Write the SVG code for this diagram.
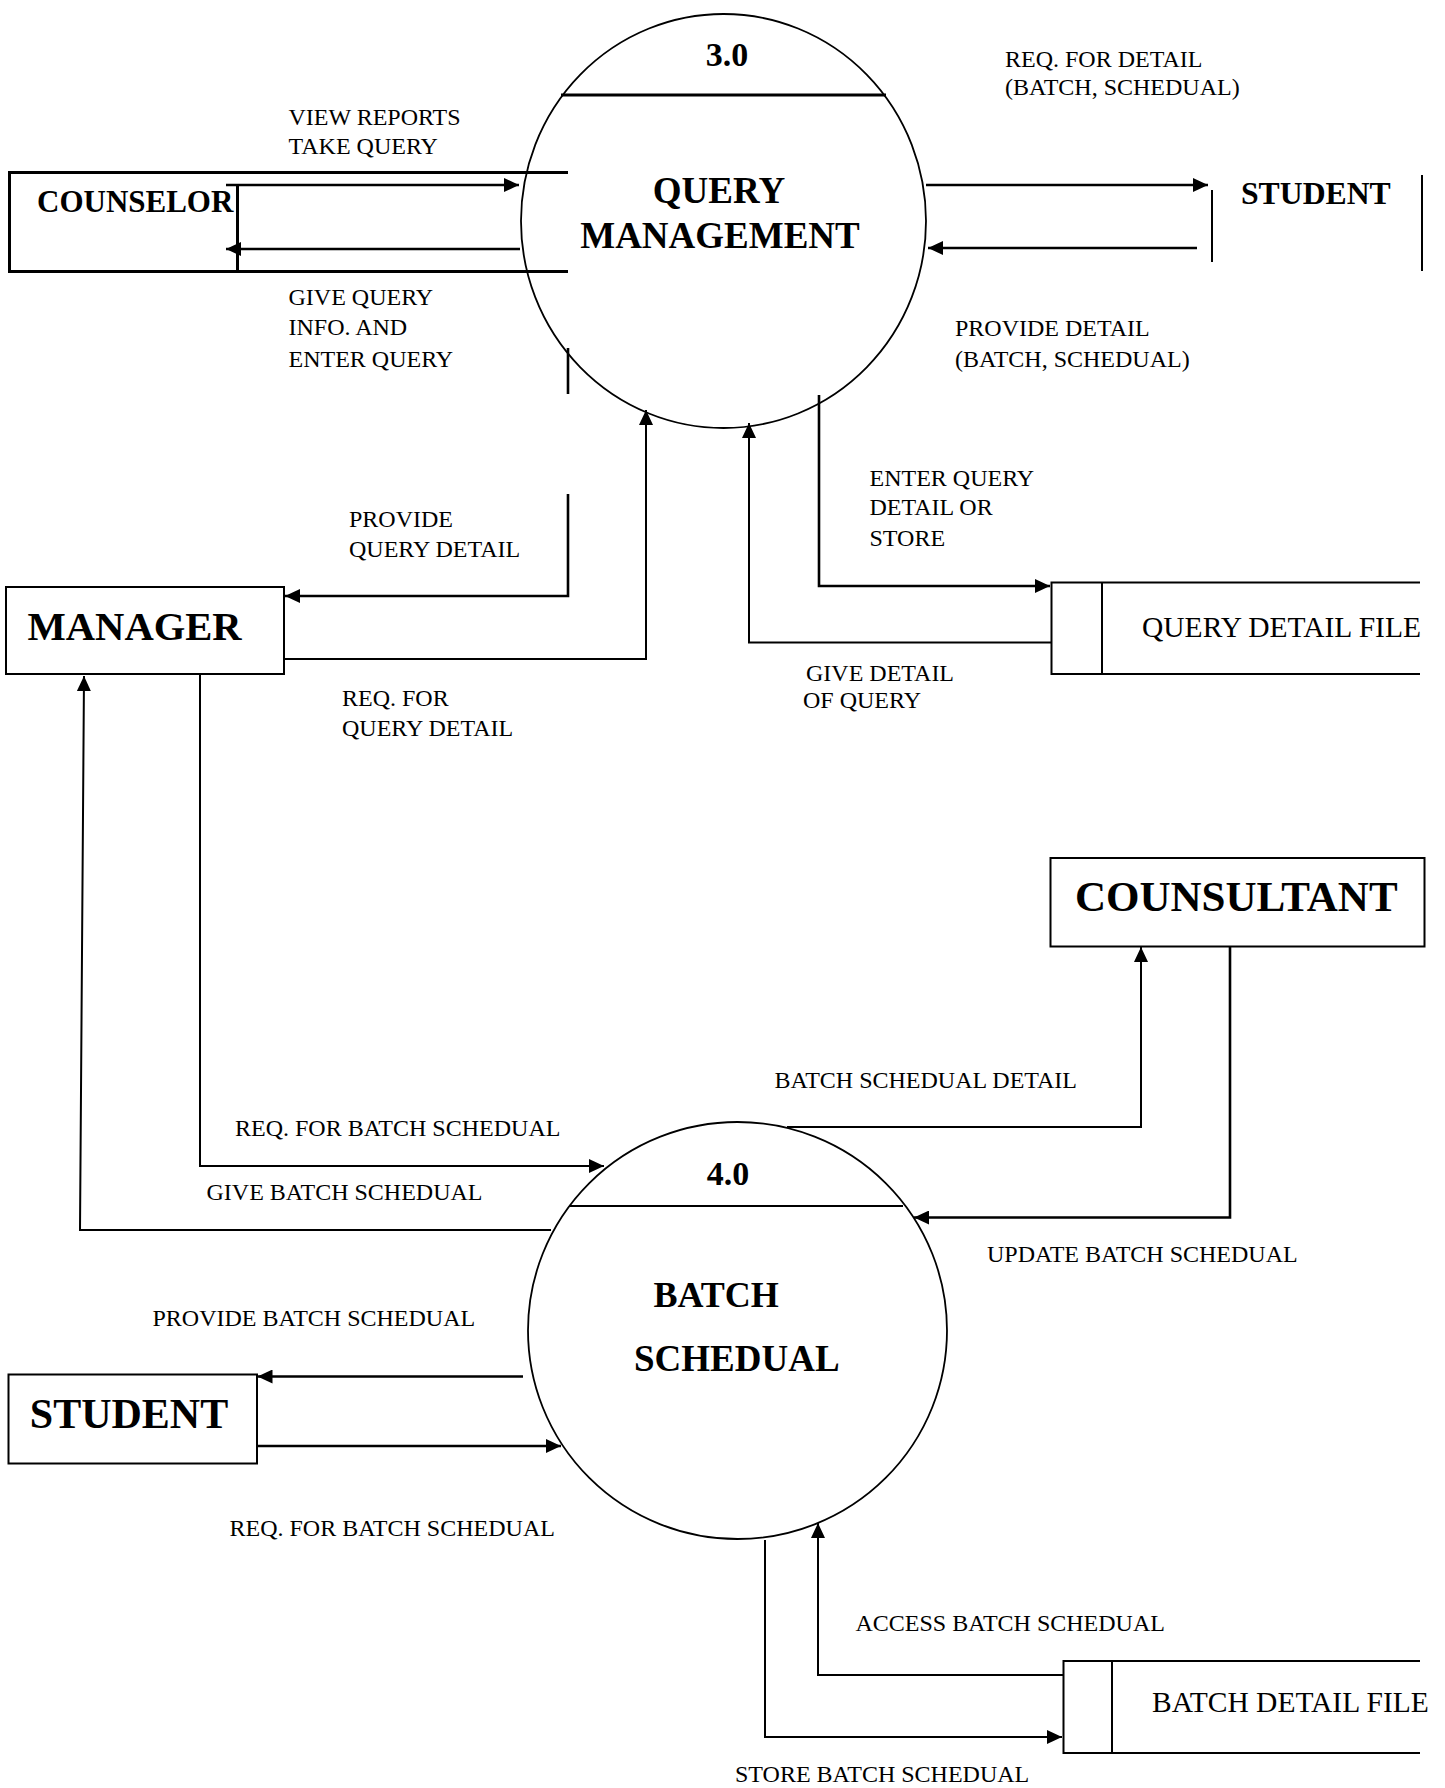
<svg xmlns="http://www.w3.org/2000/svg" width="1445" height="1788" viewBox="0 0 1445 1788">
  <style>
    .bg { fill: #ffffff; }
    .edge { fill: none; stroke: #000; stroke-width: 3; }
    .thin { fill: none; stroke: #000; stroke-width: 2; }
    .proc { fill: none; stroke: #000; stroke-width: 1.8; }
    .flow { fill: none; stroke: #000; stroke-width: 2.6; }
    .flow2 { fill: none; stroke: #000; stroke-width: 2; }
    .title { font-family: "Liberation Serif", "Times New Roman", serif; font-weight: bold; fill: #000; }
    .label { font-family: "Liberation Serif", "Times New Roman", serif; font-size: 24px; fill: #000; }
    .store { font-family: "Liberation Serif", "Times New Roman", serif; font-size: 29.5px; fill: #000; }
  </style>
  <defs>
    <marker id="arrow" markerUnits="userSpaceOnUse" markerWidth="16" markerHeight="14" refX="15" refY="7" orient="auto">
      <path d="M0,0 L15,7 L0,14 z" fill="#000"/>
    </marker>
  </defs>

  <rect class="bg" x="0" y="0" width="1445" height="1788"/>

  <!-- Level 1: query management -->
  <g id="counselor">
    <path class="edge" d="M568,172.5 H9.5 V271.5 H568"/>
    <line class="edge" x1="237.5" y1="186" x2="237.5" y2="271.5"/>
    <text class="title" x="37" y="212" font-size="31">COUNSELOR</text>
  </g>

  <g id="process-3">
    <ellipse class="proc" cx="723.5" cy="221" rx="202.5" ry="207"/>
    <line class="edge" x1="561" y1="95" x2="886" y2="95"/>
    <text class="title" x="727" y="66" font-size="34" text-anchor="middle">3.0</text>
    <text class="title" x="719" y="203" font-size="37" text-anchor="middle">QUERY</text>
    <text class="title" x="720" y="248" font-size="37" text-anchor="middle">MANAGEMENT</text>
  </g>

  <g id="student-top">
    <line class="thin" x1="1212" y1="190" x2="1212" y2="262"/>
    <line class="thin" x1="1422" y1="175" x2="1422" y2="271"/>
    <text class="title" x="1241" y="204" font-size="31.7">STUDENT</text>
  </g>

  <g id="manager">
    <rect class="thin" x="6" y="587" width="278" height="87"/>
    <text class="title" x="27.5" y="640" font-size="40.6">MANAGER</text>
  </g>

  <g id="query-detail-file">
    <path class="thin" d="M1420,582.5 H1051.5 V674 H1420"/>
    <line class="thin" x1="1102" y1="582.5" x2="1102" y2="674"/>
    <text class="store" x="1142" y="637">QUERY DETAIL FILE</text>
  </g>

  <!-- Level 2: batch schedule -->
  <g id="consultant">
    <rect class="thin" x="1050.5" y="858" width="374" height="88.5"/>
    <text class="title" x="1075" y="911" font-size="43">COUNSULTANT</text>
  </g>

  <g id="process-4">
    <ellipse class="proc" cx="737.5" cy="1330.5" rx="209.5" ry="208.5"/>
    <line class="thin" x1="569" y1="1206" x2="903" y2="1206"/>
    <text class="title" x="728" y="1185" font-size="34" text-anchor="middle">4.0</text>
    <text class="title" x="653.5" y="1307" font-size="36">BATCH</text>
    <text class="title" x="634" y="1371" font-size="37">SCHEDUAL</text>
  </g>

  <g id="student-bottom">
    <rect class="thin" x="8.5" y="1374.5" width="248.5" height="89"/>
    <text class="title" x="29.8" y="1428" font-size="42">STUDENT</text>
  </g>

  <g id="batch-detail-file">
    <path class="thin" d="M1420,1661 H1063.5 V1753 H1420"/>
    <line class="thin" x1="1112" y1="1661" x2="1112" y2="1753"/>
    <text class="store" x="1152" y="1712">BATCH DETAIL FILE</text>
  </g>

  <!-- Data flows and their labels -->
  <g id="connectors">
    <path class="flow" d="M226,185 H519" marker-end="url(#arrow)"/>
    <path class="flow" d="M520,249 H226" marker-end="url(#arrow)"/>
    <path class="flow" d="M926,185 H1208" marker-end="url(#arrow)"/>
    <path class="flow" d="M1197,248 H928" marker-end="url(#arrow)"/>
    <path class="flow" d="M568,348 V394"/>
    <path class="flow" d="M568,494 V596 H285" marker-end="url(#arrow)"/>
    <path class="flow2" d="M284,659 H646 V410" marker-end="url(#arrow)"/>
    <path class="flow" d="M819,395 V586 H1050" marker-end="url(#arrow)"/>
    <path class="flow2" d="M1051,642.5 H749 V423" marker-end="url(#arrow)"/>
    <path class="flow2" d="M200,674 V1166 H604" marker-end="url(#arrow)"/>
    <path class="flow2" d="M551,1230 H80 L84,676" marker-end="url(#arrow)"/>
    <path class="flow2" d="M787,1127 H1141 V947" marker-end="url(#arrow)"/>
    <path class="flow" d="M1230,947 V1217.5 H914" marker-end="url(#arrow)"/>
    <path class="flow" d="M523,1376.5 H257.5" marker-end="url(#arrow)"/>
    <path class="flow" d="M257,1446 H561" marker-end="url(#arrow)"/>
    <path class="flow2" d="M765,1540 V1737 H1062" marker-end="url(#arrow)"/>
    <path class="flow2" d="M1063,1675 H818 V1523" marker-end="url(#arrow)"/>

    <text class="label" x="288.5" y="125">VIEW REPORTS</text>
    <text class="label" x="288.5" y="154">TAKE QUERY</text>
    <text class="label" x="288.5" y="305">GIVE QUERY</text>
    <text class="label" x="288.5" y="335">INFO. AND</text>
    <text class="label" x="288.5" y="366.5">ENTER QUERY</text>
    <text class="label" x="1005" y="66.5">REQ. FOR DETAIL</text>
    <text class="label" x="1005" y="95">(BATCH, SCHEDUAL)</text>
    <text class="label" x="955" y="335.5">PROVIDE DETAIL</text>
    <text class="label" x="955" y="366.5">(BATCH, SCHEDUAL)</text>
    <text class="label" x="349" y="527">PROVIDE</text>
    <text class="label" x="349" y="556.5">QUERY DETAIL</text>
    <text class="label" x="342" y="706">REQ. FOR</text>
    <text class="label" x="342" y="735.5">QUERY DETAIL</text>
    <text class="label" x="869.5" y="486">ENTER QUERY</text>
    <text class="label" x="869.5" y="515">DETAIL OR</text>
    <text class="label" x="869.5" y="545.5">STORE</text>
    <text class="label" x="806" y="681">GIVE DETAIL</text>
    <text class="label" x="803" y="708" font-size="18.6">OF QUERY</text>
    <text class="label" x="774.5" y="1088">BATCH SCHEDUAL DETAIL</text>
    <text class="label" x="235" y="1135.5">REQ. FOR BATCH SCHEDUAL</text>
    <text class="label" x="206.5" y="1199.5">GIVE BATCH SCHEDUAL</text>
    <text class="label" x="987" y="1261.5">UPDATE BATCH SCHEDUAL</text>
    <text class="label" x="152.5" y="1325.5">PROVIDE BATCH SCHEDUAL</text>
    <text class="label" x="229.5" y="1535.5">REQ. FOR BATCH SCHEDUAL</text>
    <text class="label" x="855.5" y="1631">ACCESS BATCH SCHEDUAL</text>
    <text class="label" x="735" y="1782">STORE BATCH SCHEDUAL</text>
  </g>
</svg>
